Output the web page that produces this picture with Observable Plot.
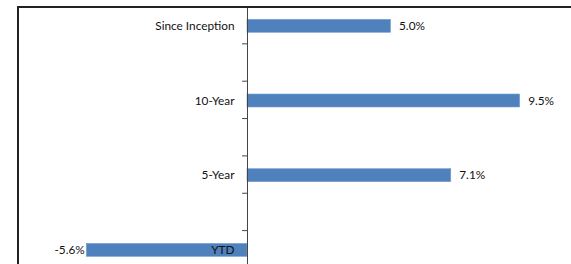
<!DOCTYPE html>
<html>
<head>
<meta charset="utf-8">
<script src="https://cdn.jsdelivr.net/npm/d3@7"></script>
<script src="https://cdn.jsdelivr.net/npm/@observablehq/plot@0.6"></script>
<style>
  html, body { margin: 0; padding: 0; background: #fff; }
  #wrap { position: relative; width: 571px; height: 264px; overflow: hidden; }
  #frame { position: absolute; left: 17px; top: 6px; width: 700px; height: 400px;
           border-top: 2px solid #222; border-left: 2px solid #222; pointer-events: none; }
  #chart svg { display: block; }
</style>
</head>
<body>
<div id="wrap"><div id="chart"></div><div id="frame"></div></div>
<script>
const categories = ["Since Inception", "10-Year", "5-Year", "YTD"];
const values = [5.0, 9.5, 7.1, -5.6];

// each category sits in every other slot of an 8-slot category axis
const rows = categories.map((c, i) => ({category: c, value: values[i], slot: 2 * i + 0.53}));
const tickSlots = d3.range(1, 8);
const half = 0.174;

const chart = Plot.plot({
  width: 571,
  height: 264,
  marginTop: 8,
  marginBottom: 0,
  marginLeft: 0,
  marginRight: 0,
  x: {domain: [-8.606, 11.289], range: [0, 571], axis: null},
  y: {domain: [0, 8], range: [6, 304.8], axis: null},
  style: {fontFamily: "Lato, 'Open Sans', sans-serif", fontSize: "11.8px", color: "#111", background: "transparent"},
  marks: [
    Plot.rectX(rows, {x1: 0, x2: "value", y1: d => d.slot - half, y2: d => d.slot + half,
      fill: "#4F81BD", stroke: "#7a9fcf", strokeWidth: 0.6}),
    Plot.ruleX([0], {stroke: "#444", strokeWidth: 1}),
    Plot.ruleY(tickSlots, {y: d => d, x1: -0.17, x2: 0, stroke: "#444", strokeWidth: 1}),
    Plot.text(rows, {x: 0, y: "slot", text: "category", textAnchor: "end", dx: -13, fill: "#111"}),
    Plot.text(rows.filter(d => d.value >= 0), {x: "value", y: "slot", text: d => d.value.toFixed(1) + "%",
      textAnchor: "start", dx: 8, fill: "#111"}),
    Plot.text(rows.filter(d => d.value < 0), {x: "value", y: "slot", text: d => d.value.toFixed(1) + "%",
      textAnchor: "end", dx: -2, fill: "#111"})
  ]
});
document.getElementById("chart").append(chart);
</script>
</body>
</html>
